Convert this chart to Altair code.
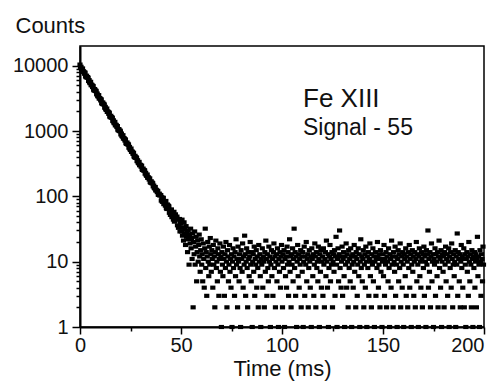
import altair as alt
import pandas as pd

# Time bins (ms): counts recorded every 0.25 ms from t = 0
bin_width_ms = 0.25

# Counts per bin (each line = 5 ms)
counts_0_25 = [
    10400, 9320, 9620, 8880, 8620, 9070, 8050, 8210, 7980, 7520, 7820, 6870, 6670, 7030, 6560, 6690, 6500, 5820, 6010, 5550,
    5390, 5660, 5030, 5130, 4990, 4700, 4890, 4290, 4170, 4390, 4100, 4180, 4060, 3640, 3750, 3460, 3360, 3540, 3140, 3200,
    3110, 2940, 3050, 2680, 2600, 2740, 2560, 2610, 2530, 2270, 2340, 2160, 2100, 2210, 1960, 2000, 1950, 1830, 1910, 1670,
    1630, 1710, 1600, 1630, 1580, 1420, 1460, 1350, 1310, 1380, 1220, 1250, 1220, 1150, 1190, 1050, 1020, 1070, 998, 1020,
    989, 886, 915, 845, 820, 862, 765, 781, 759, 715, 743, 653, 635, 668, 624, 636, 618, 554, 571, 527,
]
counts_25_50 = [
    512, 539, 478, 488, 474, 446, 464, 408, 396, 417, 389, 397, 386, 346, 357, 329, 320, 337, 299, 305,
    301, 284, 295, 259, 253, 266, 248, 253, 248, 222, 229, 211, 206, 216, 192, 196, 192, 181, 188, 165,
    162, 170, 159, 162, 158, 142, 146, 135, 132, 139, 123, 126, 123, 116, 121, 106, 105, 110, 103, 105,
    104, 86, 97, 83, 82, 95, 76, 84, 81, 72, 85, 66, 64, 75, 67, 72, 70, 56, 62, 52,
    53, 63, 48, 57, 56, 44, 58, 41, 42, 53, 45, 47, 49, 36, 44, 33, 34, 45, 29, 40,
]
counts_50_100 = [
    38, 29, 44, 25, 33, 21, 40, 27, 31, 18, 35, 24, 28, 14, 30, 22, 9, 26, 19, 32,
    16, 23, 11, 27, 2, 20, 13, 29, 9, 17, 24, 5, 14, 21, 10, 18, 26, 12, 7, 15,
    22, 9, 13, 5, 19, 11, 4, 16, 32, 8, 14, 3, 12, 20, 10, 6, 17, 9, 23, 13,
    7, 15, 11, 4, 18, 9, 12, 2, 14, 21, 8, 10, 5, 16, 13, 3, 11, 19, 7, 12,
    1, 14, 9, 6, 17, 11, 3, 13, 8, 20, 10, 2, 15, 12, 5, 9, 18, 7, 11, 4,
    13, 1, 10, 16, 8, 12, 3, 14, 6, 22, 9, 11, 2, 17, 10, 5, 13, 8, 1, 15,
    11, 7, 19, 4, 12, 9, 25, 13, 3, 10, 16, 8, 2, 14, 11, 6, 12, 20, 9, 5,
    14, 1, 10, 13, 7, 17, 3, 11, 9, 15, 4, 12, 8, 2, 18, 10, 13, 6, 1, 11,
    9, 16, 4, 12, 10, 2, 14, 7, 21, 11, 3, 13, 8, 5, 17, 10, 12, 1, 9, 15,
    6, 11, 3, 14, 19, 8, 12, 2, 10, 13, 5, 16, 9, 1, 11, 7, 14, 4, 12, 18,
]
counts_100_150 = [
    10, 2, 13, 8, 15, 1, 11, 6, 12, 4, 17, 9, 14, 3, 10, 22, 7, 12, 2, 13,
    9, 16, 5, 11, 32, 8, 14, 3, 12, 1, 10, 18, 6, 13, 4, 11, 9, 15, 2, 12,
    7, 14, 1, 10, 17, 3, 12, 9, 20, 5, 11, 13, 2, 8, 15, 10, 4, 12, 1, 16,
    11, 6, 13, 3, 9, 19, 12, 2, 14, 8, 10, 5, 17, 11, 1, 13, 7, 15, 4, 10,
    12, 3, 16, 9, 2, 11, 14, 6, 21, 10, 4, 13, 1, 8, 12, 18, 5, 11, 9, 14,
    2, 10, 13, 7, 15, 3, 12, 24, 9, 1, 11, 16, 5, 13, 30, 8, 12, 4, 10, 17,
    3, 11, 14, 6, 1, 12, 9, 19, 4, 13, 10, 2, 15, 8, 11, 5, 16, 12, 1, 9,
    13, 4, 10, 18, 7, 12, 2, 14, 11, 3, 9, 16, 6, 13, 1, 10, 22, 8, 12, 5,
    11, 15, 2, 9, 13, 4, 17, 10, 1, 12, 8, 14, 3, 11, 19, 6, 10, 2, 13, 9,
    16, 5, 12, 1, 10, 14, 3, 11, 8, 20, 12, 4, 9, 13, 2, 15, 7, 11, 1, 10,
]
counts_150_200 = [
    13, 6, 18, 3, 11, 9, 14, 2, 12, 10, 5, 16, 8, 1, 13, 11, 4, 21, 9, 12,
    2, 14, 10, 7, 17, 3, 12, 9, 1, 11, 15, 5, 13, 8, 19, 2, 10, 12, 4, 14,
    9, 1, 13, 11, 6, 16, 3, 12, 10, 2, 14, 8, 18, 4, 11, 13, 1, 9, 15, 7,
    12, 3, 10, 14, 2, 11, 20, 5, 13, 9, 1, 12, 16, 6, 10, 4, 14, 11, 2, 13,
    8, 17, 3, 12, 10, 1, 15, 9, 13, 30, 4, 11, 7, 14, 2, 12, 19, 5, 10, 13,
    1, 11, 9, 16, 3, 13, 10, 6, 14, 2, 12, 21, 8, 11, 4, 15, 1, 10, 13, 7,
    12, 2, 14, 9, 17, 5, 11, 13, 3, 10, 16, 1, 12, 8, 14, 4, 19, 11, 2, 9,
    13, 6, 10, 15, 1, 12, 9, 27, 3, 14, 11, 5, 13, 2, 10, 18, 8, 12, 4, 11,
    16, 2, 13, 9, 1, 11, 14, 7, 12, 3, 20, 10, 5, 13, 9, 2, 15, 11, 1, 12,
    8, 14, 4, 10, 13, 2, 11, 24, 6, 12, 9, 1, 15, 10, 3, 13, 11, 5, 17, 9,
]

x_ticks = [0, 25, 50, 75, 100, 125, 150, 175, 200]
x_major = [0, 50, 100, 150, 200]
y_major = [1, 10, 100, 1000, 10000]
y_ticks = [m * d for d in [1, 10, 100, 1000] for m in range(1, 10)] + [10000]

annotation_title = "Fe XIII"
annotation_sub = "Signal - 55"

counts = counts_0_25 + counts_25_50 + counts_50_100 + counts_100_150 + counts_150_200
df = pd.DataFrame({"time": [i * bin_width_ms for i in range(len(counts))],
                   "counts": counts})

FONT = "Liberation Sans"
x_major_js = "[" + ",".join(str(v) for v in x_major) + "]"
y_major_js = "[" + ",".join(str(v) for v in y_major) + "]"

points = alt.Chart(df).mark_point(
    shape="M-1,-0.8L1,-0.8L1,0.8L-1,0.8Z", size=27, filled=True,
    color="black", opacity=1, strokeWidth=0
).encode(
    x=alt.X("time:Q", scale=alt.Scale(domain=[0, 200], nice=False),
            axis=alt.Axis(
                values=x_ticks, title="Time (ms)",
                labelExpr=f"indexof({x_major_js}, datum.value) >= 0 ? datum.label : ''",
                labelAlign={"condition": {"test": "datum.value >= 200", "value": "right"}, "value": "center"},
                tickSize={"condition": {"test": f"indexof({x_major_js}, datum.value) >= 0", "value": 7}, "value": 4},
                labelOverlap=False, labelFlush=False, labelPadding=1,
                titleY=48, titleBaseline="alphabetic", titlePadding=0)),
    y=alt.Y("counts:Q", scale=alt.Scale(type="log", domain=[1, 20000], nice=False),
            axis=alt.Axis(
                values=y_ticks, format="d", title="Counts",
                labelExpr=f"indexof({y_major_js}, datum.value) >= 0 ? datum.label : ''",
                tickSize={"condition": {"test": f"indexof({y_major_js}, datum.value) >= 0", "value": 8}, "value": 4},
                labelOverlap=False, labelFlush=False, labelPadding=4,
                titleAngle=0, titleAlign="left", titleBaseline="alphabetic",
                titleX=-65, titleY=-14)),
)

txt1 = alt.Chart(pd.DataFrame({"t": [annotation_title]})).mark_text(
    align="left", baseline="alphabetic", font=FONT, fontSize=26, color="#111"
).encode(text="t:N", x=alt.value(223), y=alt.value(61))

txt2 = alt.Chart(pd.DataFrame({"t": [annotation_sub]})).mark_text(
    align="left", baseline="alphabetic", font=FONT, fontSize=23, color="#111"
).encode(text="t:N", x=alt.value(223), y=alt.value(89))

chart = alt.layer(points, txt1, txt2).properties(
    width=404, height=281,
    autosize=alt.AutoSizeParams(type="none"),
    padding={"left": 80, "top": 46, "right": 6, "bottom": 55},
    background="white",
).configure_view(
    stroke="black", strokeWidth=1.5
).configure_axis(
    domainColor="black", domainWidth=2, tickColor="black", tickWidth=1.5,
    labelFont=FONT, labelFontSize=20, labelColor="#111",
    titleFont=FONT, titleFontSize=22, titleFontWeight="normal", titleColor="#111",
    grid=False,
)

chart.save("out.html", embed_options={"renderer": "svg", "actions": False})
